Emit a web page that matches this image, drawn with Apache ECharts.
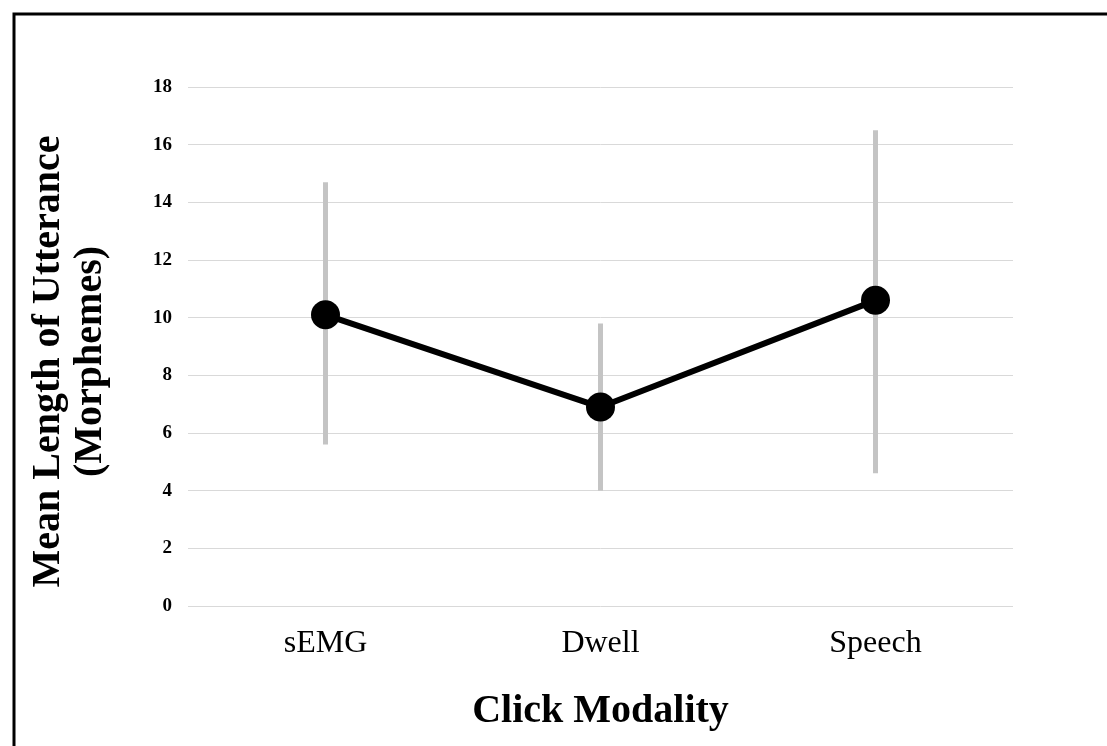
<!DOCTYPE html>
<html>
<head>
<meta charset="utf-8">
<script src="https://cdn.jsdelivr.net/npm/echarts@6/dist/echarts.min.js"></script>
<style>html,body{margin:0;padding:0;background:#fff;}#chart{width:1107px;height:746px;}</style>
</head>
<body>
<div id="chart"></div>
<script>
const categories = ['sEMG', 'Dwell', 'Speech'];
const meanValues = [10.1, 6.9, 10.6];
const errLow = [5.6, 4.0, 4.6];
const errHigh = [14.7, 9.8, 16.5];
const yTicks = [0, 2, 4, 6, 8, 10, 12, 14, 16, 18];

const chart = echarts.init(document.getElementById('chart'), null, {renderer: 'canvas'});
const serif = '"Liberation Serif", "Times New Roman", serif';
chart.setOption({
  animation: false,
  backgroundColor: '#fff',
  graphic: [{
    type: 'rect', left: 11.5, top: 11.5, z: 100,
    shape: {x: 0, y: 0, width: 1200, height: 1000},
    style: {fill: 'none', stroke: '#000', lineWidth: 3}
  }],
  grid: {left: 188, right: 94, top: 87, bottom: 140},
  xAxis: {
    type: 'category',
    data: categories,
    boundaryGap: true,
    axisLine: {show: false},
    axisTick: {show: false},
    axisLabel: {fontFamily: serif, fontSize: 32, color: '#000', margin: 22},
    name: 'Click Modality',
    nameLocation: 'middle',
    nameGap: 86,
    nameTextStyle: {fontFamily: serif, fontSize: 40, fontWeight: 'bold', color: '#000', lineHeight: 40}
  },
  yAxis: {
    type: 'value',
    min: yTicks[0],
    max: yTicks[yTicks.length - 1],
    interval: 2,
    axisLine: {show: false},
    axisTick: {show: false},
    splitLine: {show: true, lineStyle: {color: '#d9d9d9', width: 1}},
    axisLabel: {fontFamily: serif, fontSize: 19, fontWeight: 'bold', color: '#000', margin: 16},
    name: 'Mean Length of Utterance\n(Morphemes)',
    nameLocation: 'middle',
    nameGap: 76,
    nameTextStyle: {fontFamily: serif, fontSize: 40, fontWeight: 'bold', color: '#000', lineHeight: 42, padding: [0, 30, 0, 0]}
  },
  series: [
    {
      type: 'custom',
      z: 1,
      data: categories.map((c, i) => [i, errLow[i], errHigh[i]]),
      renderItem: function (params, api) {
        const x = api.value(0);
        const p1 = api.coord([x, api.value(1)]);
        const p2 = api.coord([x, api.value(2)]);
        return {
          type: 'line',
          shape: {x1: p1[0], y1: p1[1], x2: p2[0], y2: p2[1]},
          style: {stroke: '#c4c4c4', lineWidth: 5}
        };
      }
    },
    {
      type: 'line',
      z: 3,
      data: meanValues,
      symbol: 'circle',
      symbolSize: 29,
      itemStyle: {color: '#000'},
      lineStyle: {color: '#000', width: 6}
    }
  ]
});
</script>
</body>
</html>
